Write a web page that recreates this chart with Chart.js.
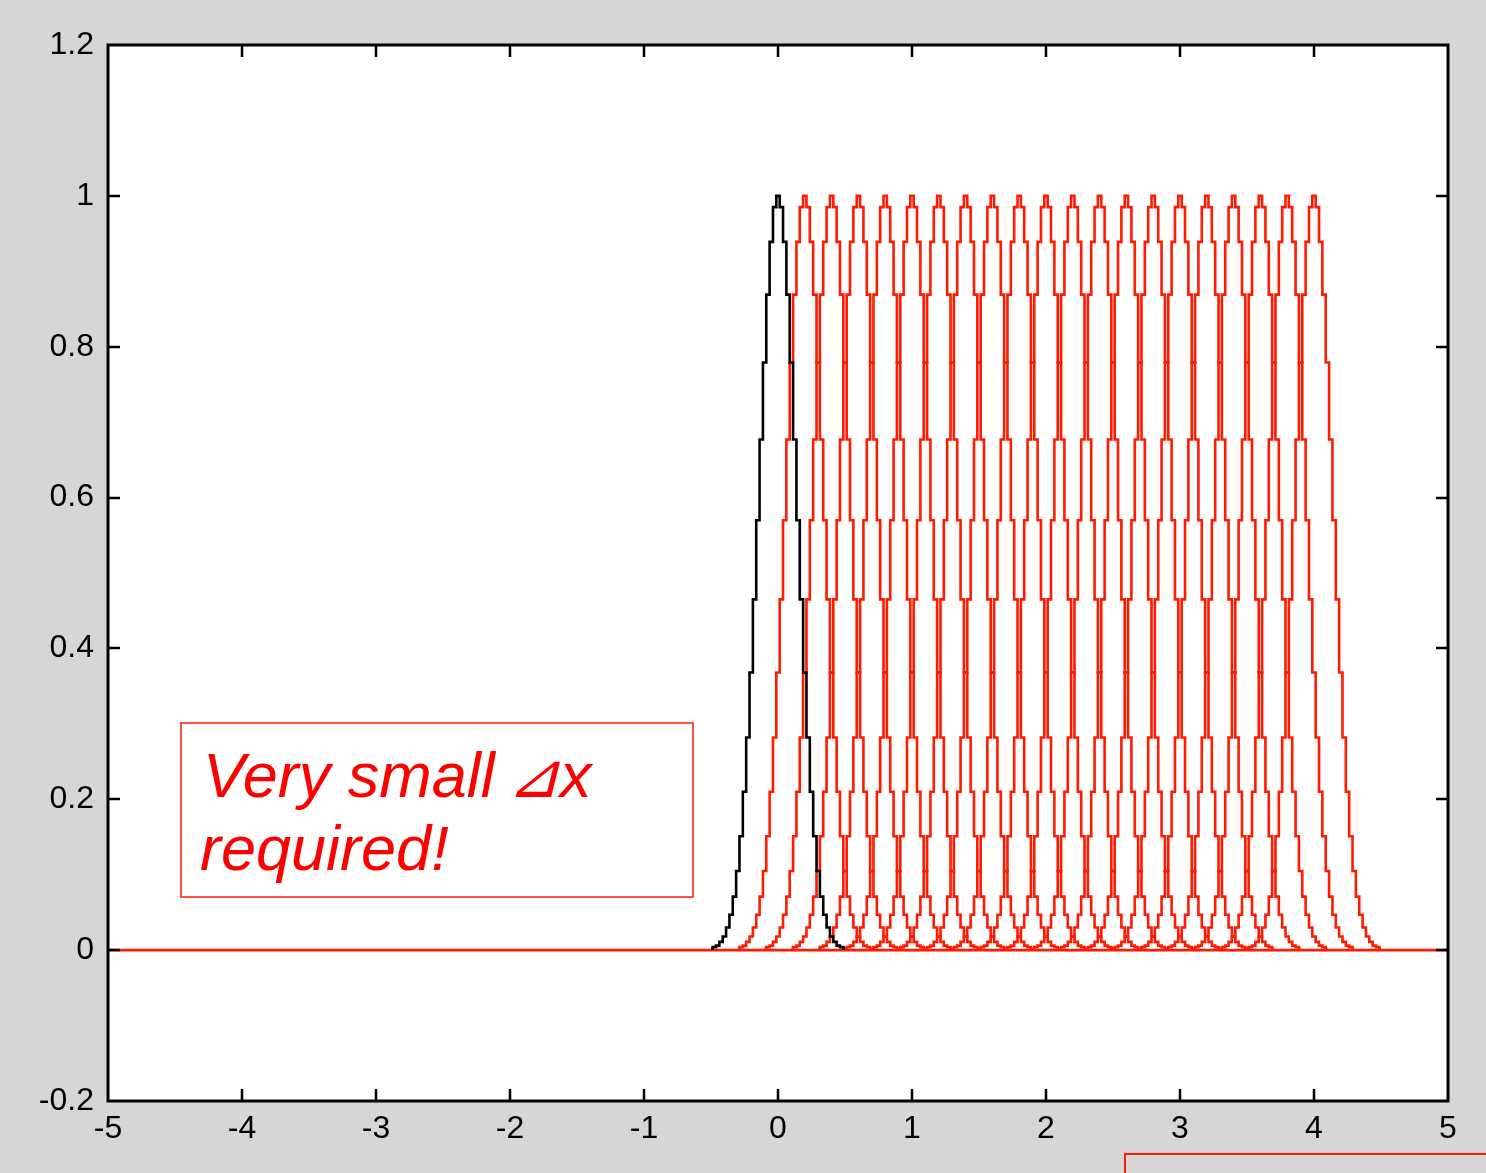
<!DOCTYPE html>
<html>
<head>
<meta charset="utf-8">
<script src="https://cdn.jsdelivr.net/npm/chart.js@4"></script>
<style>
  html, body { margin: 0; padding: 0; background: #d6d6d6; }
  #wrap { width: 1486px; height: 1173px; position: relative; }
</style>
</head>
<body>
<div id="wrap"><canvas id="pulseChart"></canvas></div>
<script>
// Pulse profile (one bump), sampled every 0.025
const pulseX = [-0.5, -0.475, -0.45, -0.425, -0.4, -0.375, -0.35, -0.325, -0.3, -0.275,
                -0.25, -0.225, -0.2, -0.175, -0.15, -0.125, -0.1, -0.075, -0.05, -0.025,
                0, 0.025, 0.05, 0.075, 0.1, 0.125, 0.15, 0.175, 0.2, 0.225,
                0.25, 0.275, 0.3, 0.325, 0.35, 0.375, 0.4, 0.425, 0.45, 0.475, 0.5];
const pulseY = [0.002, 0.004, 0.006, 0.011, 0.018, 0.03, 0.047, 0.071, 0.105, 0.151,
                0.21, 0.282, 0.368, 0.465, 0.57, 0.677, 0.779, 0.869, 0.939, 0.985,
                1, 0.985, 0.939, 0.869, 0.779, 0.677, 0.57, 0.465, 0.368, 0.282,
                0.21, 0.151, 0.105, 0.071, 0.047, 0.03, 0.018, 0.011, 0.006, 0.004, 0.002];

// initial pulse position and the advected positions
const initialShift = 0;
const redShifts = [0.2, 0.4, 0.6, 0.8, 1.0, 1.2, 1.4, 1.6, 1.8, 2.0,
                   2.2, 2.4, 2.6, 2.8, 3.0, 3.2, 3.4, 3.6, 3.8, 4.0];

const xTicks = [-5, -4, -3, -2, -1, 0, 1, 2, 3, 4, 5];
const yTicks = [-0.2, 0, 0.2, 0.4, 0.6, 0.8, 1, 1.2];

const RED = '#ff1a00';
const LINE_W = 2.6;

function pulsePoints(shift) {
    return pulseX.map((x, i) => ({ x: x + shift, y: pulseY[i] }));
}

const datasets = [{
    data: pulsePoints(initialShift),
    borderColor: '#000',
    borderWidth: LINE_W,
    stepped: 'middle'
}];
redShifts.forEach(s => {
    datasets.push({ data: pulsePoints(s), borderColor: RED, borderWidth: LINE_W, stepped: 'middle' });
});
// zero level over the whole domain
datasets.push({
    data: [{ x: xTicks[0], y: 0 }, { x: xTicks[xTicks.length - 1], y: 0 }],
    borderColor: RED,
    borderWidth: LINE_W,
    stepped: false
});

// gray figure background, white axes, box frame with inward ticks, annotations
const framePlugin = {
    id: 'frame',
    beforeDraw(chart) {
        const { ctx, chartArea: a } = chart;
        ctx.save();
        ctx.fillStyle = '#d6d6d6';
        ctx.fillRect(0, 0, chart.width, chart.height);
        ctx.fillStyle = '#fff';
        ctx.fillRect(a.left, a.top, a.right - a.left, a.bottom - a.top);
        ctx.restore();
    },
    afterDraw(chart) {
        const { ctx, chartArea: a, scales } = chart;
        const tick = 12;
        ctx.save();
        ctx.strokeStyle = '#000';
        ctx.lineWidth = 3;
        ctx.strokeRect(a.left, a.top, a.right - a.left, a.bottom - a.top);
        ctx.lineWidth = 2.5;
        ctx.beginPath();
        xTicks.slice(1, -1).forEach(v => {
            const px = Math.round(scales.x.getPixelForValue(v));
            ctx.moveTo(px, a.bottom); ctx.lineTo(px, a.bottom - tick);
            ctx.moveTo(px, a.top); ctx.lineTo(px, a.top + tick);
        });
        yTicks.slice(1, -1).forEach(v => {
            const py = Math.round(scales.y.getPixelForValue(v));
            ctx.moveTo(a.left, py); ctx.lineTo(a.left + tick, py);
            ctx.moveTo(a.right, py); ctx.lineTo(a.right - tick, py);
        });
        ctx.stroke();

        // note box
        ctx.fillStyle = '#fff';
        ctx.fillRect(181, 723, 512, 174);
        ctx.strokeStyle = RED;
        ctx.lineWidth = 1.5;
        ctx.strokeRect(181, 723, 512, 174);
        ctx.fillStyle = '#ff0000';
        ctx.font = 'italic 63px "Liberation Sans", Arial, sans-serif';
        ctx.textBaseline = 'alphabetic';
        ctx.fillText('Very small', 203, 797);
        ctx.fillText('\u22BFx', 507, 797);
        ctx.fillText('required!', 200, 870);

        // next panel's box edge
        ctx.strokeStyle = RED;
        ctx.lineWidth = 2;
        ctx.strokeRect(1125, 1154, 400, 100);
        ctx.restore();
    }
};

const tickFont = { family: '"Liberation Sans", sans-serif', size: 32 };

new Chart(document.getElementById('pulseChart'), {
    type: 'line',
    data: { datasets: datasets },
    options: {
        responsive: true,
        maintainAspectRatio: false,
        animation: false,
        layout: { padding: { left: 0, top: 45, right: 38, bottom: 0 } },
        elements: {
            point: { radius: 0 },
            line: { tension: 0 }
        },
        plugins: { legend: { display: false }, tooltip: { enabled: false } },
        scales: {
            x: {
                type: 'linear',
                min: -5, max: 5,
                grid: { display: false },
                border: { display: false },
                afterBuildTicks: s => { s.ticks = xTicks.map(v => ({ value: v })); },
                afterFit: s => { s.height = 72; },
                ticks: {
                    color: '#000',
                    padding: 1,
                    maxRotation: 0,
                    font: tickFont
                }
            },
            y: {
                type: 'linear',
                min: -0.2, max: 1.2,
                grid: { display: false },
                border: { display: false },
                afterBuildTicks: s => { s.ticks = yTicks.map(v => ({ value: v })); },
                afterFit: s => { s.width = 108; },
                ticks: {
                    color: '#000',
                    padding: 6,
                    font: tickFont,
                    callback: v => String(Math.round(v * 10) / 10)
                }
            }
        }
    },
    plugins: [framePlugin]
});
</script>
</body>
</html>
